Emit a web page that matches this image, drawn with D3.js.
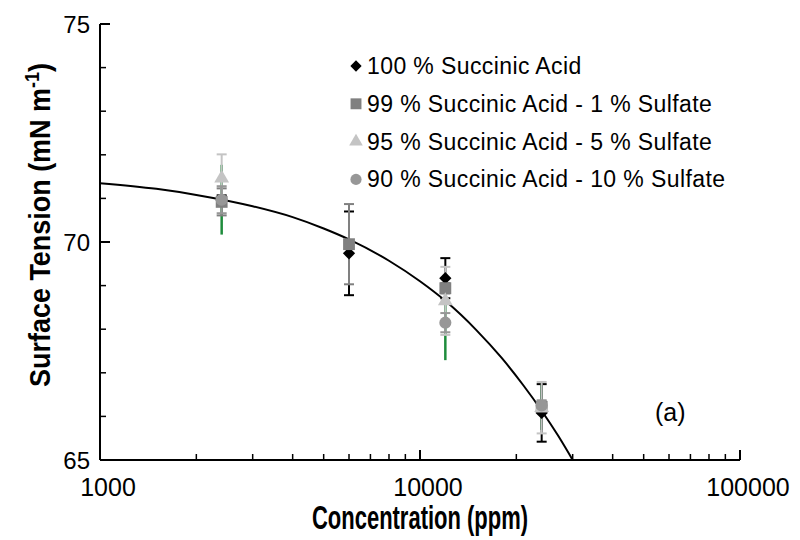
<!DOCTYPE html>
<html>
<head>
<meta charset="utf-8">
<script src="https://cdn.jsdelivr.net/npm/d3@7"></script>
<style>
  html, body { margin: 0; padding: 0; background: #fff; }
  svg { display: block; }
  text { font-family: "Liberation Sans", Arial, sans-serif; fill: #000; }
</style>
</head>
<body>
<svg id="chart" width="800" height="540"></svg>
<script>
// Measured concentrations (ppm)
const concentrations = [2400, 6000, 12000, 24000];

// Surface tension (mN m-1) and standard deviations for each mixture
const sa100    = [70.95, 69.74, 69.17, 66.08];
const sa100Err = [0.12, 0.96, 0.46, 0.66];
const sa99     = [70.92, 69.95, 68.94, 66.22];
const sa99Err  = [0.31, 0.92, 0.12, 0.12];
const sa95     = [71.46, null, 68.65, 66.20];
const sa95Err  = [0.55, null, 0.78, 0.59];
const sa90     = [70.97, null, 68.15, 66.25];
const sa90Err  = [0.31, null, 0.22, 0.12];
const sa90Range = [0.80, null, 0.86, 0.56];

// Fitted curve, sampled along its length
const fitConc = [1000, 1500, 2000, 3000, 4000, 5000, 6000, 8000, 10000, 12000, 15000, 18000, 21000, 24000, 27000, 30000];
const fitTension = [71.35, 71.22, 71.08, 70.82, 70.57, 70.31, 70.06, 69.57, 69.10, 68.65, 67.98, 67.34, 66.72, 66.13, 65.56, 65.00];

const seriesNames = [
  "100 % Succinic Acid",
  "99 % Succinic Acid - 1 % Sulfate",
  "95 % Succinic Acid - 5 % Sulfate",
  "90 % Succinic Acid - 10 % Sulfate"
];
const xTickLabels = ["1000", "10000", "100000"];
const yTickLabels = ["65", "70", "75"];

// A square turned on its corner
const symbolRhomb = {
  draw(ctx, size) {
    const r = Math.sqrt(size / 2);
    ctx.moveTo(0, -r); ctx.lineTo(r, 0); ctx.lineTo(0, r); ctx.lineTo(-r, 0); ctx.closePath();
  }
};

const series = [
  { name: seriesNames[0], values: sa100, err: sa100Err, symbol: symbolRhomb,     size: 75,  color: "#000000" },
  { name: seriesNames[1], values: sa99,  err: sa99Err,  symbol: d3.symbolSquare,  size: 140, color: "#808080" },
  { name: seriesNames[2], values: sa95,  err: sa95Err,  symbol: d3.symbolTriangle, size: 95, color: "#c4c4c4" },
  { name: seriesNames[3], values: sa90,  err: sa90Err,  symbol: d3.symbolCircle,  size: 115, color: "#979797" }
];

const svg = d3.select("#chart");
const x = d3.scaleLog().domain([1000, 100000]).range([100, 740]);
const y = d3.scaleLinear().domain([65, 75]).range([460, 24]);

// Axes: ticks point inward
const xMinor = [];
[1000, 10000].forEach(b => { for (let k = 2; k <= 9; k++) xMinor.push(b * k); });
const xAxis = svg.append("g").attr("transform", `translate(0,${y(65)})`);
xAxis.append("line").attr("x1", x(1000)).attr("x2", x(100000)).attr("stroke", "#000").attr("stroke-width", 2);
xAxis.selectAll("line.minor").data(xMinor).join("line").attr("class", "minor")
  .attr("x1", d => x(d)).attr("x2", d => x(d)).attr("y1", 0).attr("y2", -6)
  .attr("stroke", "#000").attr("stroke-width", 1.5);
xAxis.selectAll("line.major").data(xTickLabels).join("line").attr("class", "major")
  .attr("x1", d => x(+d)).attr("x2", d => x(+d)).attr("y1", 0).attr("y2", -10)
  .attr("stroke", "#000").attr("stroke-width", 2);
xAxis.selectAll("text.lbl").data(xTickLabels).join("text").attr("class", "lbl")
  .attr("x", d => x(+d) + 8).attr("y", 36)
  .attr("text-anchor", "middle").attr("font-size", 25).text(d => d);

const yMinor = d3.range(65, 75.01, 1).filter(v => v % 5 !== 0);
const yAxis = svg.append("g").attr("transform", `translate(${x(1000)},0)`);
yAxis.append("line").attr("y1", y(65)).attr("y2", y(75)).attr("stroke", "#000").attr("stroke-width", 2);
yAxis.selectAll("line.minor").data(yMinor).join("line").attr("class", "minor")
  .attr("y1", d => y(d)).attr("y2", d => y(d)).attr("x1", 0).attr("x2", 6)
  .attr("stroke", "#000").attr("stroke-width", 1.5);
yAxis.selectAll("line.major").data(yTickLabels).join("line").attr("class", "major")
  .attr("y1", d => y(+d)).attr("y2", d => y(+d)).attr("x1", 0).attr("x2", 10)
  .attr("stroke", "#000").attr("stroke-width", 2);
yAxis.selectAll("text.lbl").data(yTickLabels).join("text").attr("class", "lbl")
  .attr("x", -10).attr("y", d => y(+d) + 9)
  .attr("text-anchor", "end").attr("font-size", 24).text(d => d);

// Axis titles (condensed bold)
svg.append("text")
  .attr("x", 420).attr("y", 529).attr("text-anchor", "middle")
  .attr("font-size", 33).attr("font-weight", "bold")
  .attr("textLength", 216).attr("lengthAdjust", "spacingAndGlyphs")
  .text("Concentration (ppm)");
const yTitle = svg.append("g").attr("transform", "translate(50,225) rotate(-90)");
const yMain = yTitle.append("text")
  .attr("text-anchor", "middle").attr("font-size", 30).attr("font-weight", "bold");
yMain.append("tspan").text("Surface Tension (mN m");
yMain.append("tspan").attr("dy", -11).attr("font-size", 20).text("-1");
yMain.append("tspan").attr("dy", 11).text(")");
// squeeze the title to the axis height
const yLen = yMain.node().getComputedTextLength();
yTitle.attr("transform", `translate(50,225) rotate(-90) scale(${324 / yLen},1)`);

// Fitted curve
const fit = fitConc.map((c, i) => [c, fitTension[i]]);
svg.append("path").datum(fit)
  .attr("fill", "none").attr("stroke", "#000").attr("stroke-width", 2)
  .attr("d", d3.line().x(d => x(d[0])).y(d => y(d[1])).curve(d3.curveMonotoneX));

// Spread of the 10 % sulfate measurements
svg.append("g").selectAll("line")
  .data(concentrations.map((c, i) => ({ c, v: sa90[i], r: sa90Range[i] })).filter(d => d.v != null))
  .join("line")
  .attr("x1", d => x(d.c)).attr("x2", d => x(d.c))
  .attr("y1", d => y(d.v - d.r)).attr("y2", d => y(d.v + d.r))
  .attr("stroke", "#1e8c3c").attr("stroke-width", 2.5);

// Error bars with caps
series.forEach(s => {
  const pts = concentrations.map((c, i) => ({ c, v: s.values[i], e: s.err[i] })).filter(d => d.v != null);
  const g = svg.append("g").attr("stroke", s.color).attr("stroke-width", 2);
  g.selectAll("line.stem").data(pts).join("line").attr("class", "stem")
    .attr("x1", d => x(d.c)).attr("x2", d => x(d.c))
    .attr("y1", d => y(d.v - d.e)).attr("y2", d => y(d.v + d.e));
  [-1, 1].forEach((sign, k) => {
    g.selectAll("line.cap" + k).data(pts).join("line").attr("class", "cap" + k)
      .attr("x1", d => x(d.c) - 5).attr("x2", d => x(d.c) + 5)
      .attr("y1", d => y(d.v + sign * d.e))
      .attr("y2", d => y(d.v + sign * d.e));
  });
});

// Markers
series.forEach(s => {
  const pts = concentrations.map((c, i) => ({ c, v: s.values[i] })).filter(d => d.v != null);
  svg.append("g").selectAll("path").data(pts).join("path")
    .attr("transform", d => `translate(${x(d.c)},${y(d.v)})`)
    .attr("d", d3.symbol().type(s.symbol).size(s.size))
    .attr("fill", s.color);
});

// Legend
const legend = svg.append("g").attr("transform", "translate(356,66)");
series.forEach((s, i) => {
  const row = legend.append("g").attr("transform", `translate(0,${i * 37.8})`);
  row.append("path").attr("d", d3.symbol().type(s.symbol).size(s.size * 0.85)).attr("fill", s.color);
  row.append("text").attr("x", 11).attr("y", 8).attr("font-size", 23)
    .attr("letter-spacing", 0.4).text(s.name);
});

// Panel label
svg.append("text").attr("x", 655).attr("y", 421).attr("font-size", 25).text("(a)");
</script>
</body>
</html>
